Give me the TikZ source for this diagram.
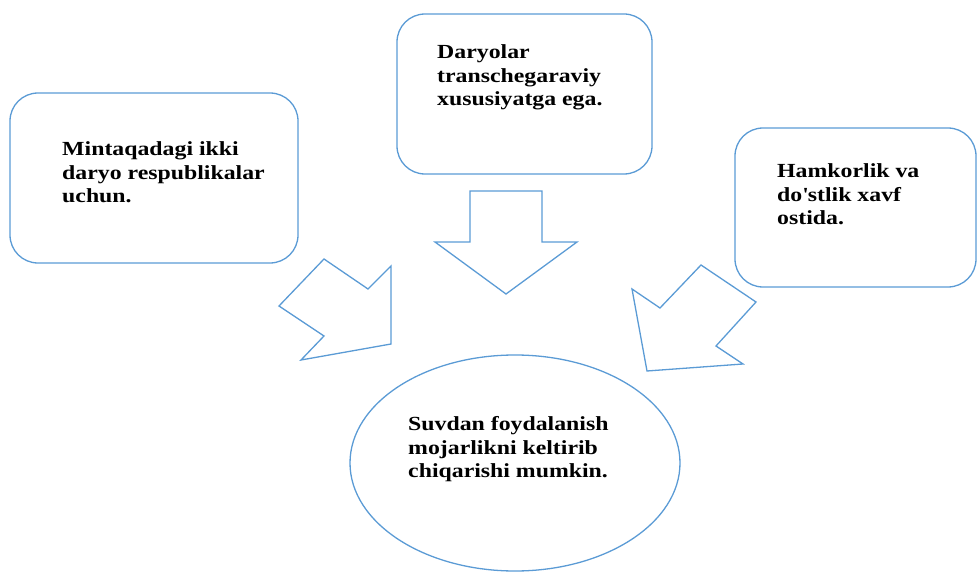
\documentclass[tikz,border=0pt]{standalone}
\usepackage{fontspec}
\setmainfont{Liberation Serif}[FakeStretch=1.19]
\usetikzlibrary{shapes.geometric}
\definecolor{outline_blue}{HTML}{5B9BD5}

\begin{document}
\begin{tikzpicture}[x=1pt,y=-1pt,
	box_node/.style={rectangle,draw=outline_blue,line width=1.3pt,rounded corners=28pt,inner sep=0pt},
	oval_node/.style={ellipse,draw=outline_blue,line width=1.3pt,inner sep=0pt},
	text_node/.style={anchor=north west,align=left,inner sep=0pt,font=\fontsize{20}{23.5}\selectfont\bfseries},
	arrow_shape/.style={draw=outline_blue,line width=1.3pt,line join=miter}]
	\useasboundingbox (0,0) rectangle (978,575);

	% boxes around the three statements
	\node[box_node,minimum width=288pt,minimum height=170pt] (mintaqa) at (154,178){};
	\node[box_node,minimum width=255pt,minimum height=160pt] (daryo) at (524.5,94){};
	\node[box_node,minimum width=241pt,minimum height=159pt] (hamkor) at (855.5,207.5){};
	\node[oval_node,minimum width=330pt,minimum height=216pt] (suv) at (515,463){};

	\node[text_node] (mintaqa_txt) at (62,141.5){Mintaqadagi ikki\\daryo respublikalar\\uchun.};
	\node[text_node] (daryo_txt) at (437,44.5){Daryolar\\transchegaraviy\\xususiyatga ega.};
	\node[text_node] (hamkor_txt) at (777,163.5){Hamkorlik va\\do\textquotesingle stlik xavf\\ostida.};
	\node[text_node] (suv_txt) at (408,416.5){Suvdan foydalanish\\mojarlikni keltirib\\chiqarishi mumkin.};

	% block arrows pointing at the oval
	\draw[arrow_shape] (324,259) -- (368,289) -- (391,266) -- (391,344) -- (301,360) -- (324,336) -- (279,306) -- cycle;
	\draw[arrow_shape] (470,191) -- (542,191) -- (542,242) -- (577,242) -- (506,294) -- (435,242) -- (470,242) -- cycle;
	\draw[arrow_shape] (701,265) -- (756,302) -- (716,346) -- (743,364) -- (647,371) -- (632,289) -- (660,308) -- cycle;
\end{tikzpicture}
\end{document}
